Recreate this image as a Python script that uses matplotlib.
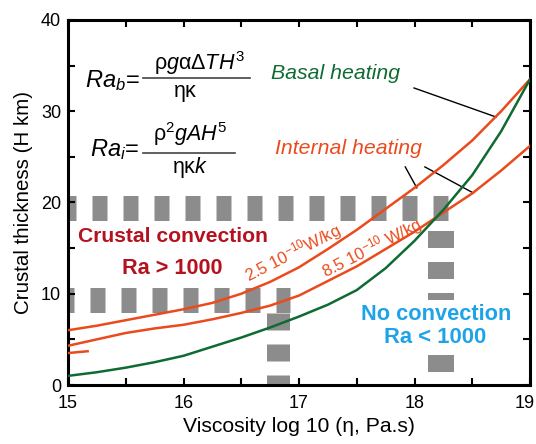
import numpy as np
import matplotlib as mpl
mpl.use('Agg')
from matplotlib import pyplot as plt
from matplotlib.transforms import ScaledTranslation

plt.rcParams['font.family'] = ['Liberation Sans', 'DejaVu Sans']
plt.rcParams['mathtext.fontset'] = 'custom'
plt.rcParams['mathtext.rm'] = 'Liberation Sans'
plt.rcParams['mathtext.it'] = 'Liberation Sans:italic'
plt.rcParams['mathtext.bf'] = 'Liberation Sans:bold'
plt.rcParams['mathtext.fallback'] = 'stixsans'
plt.rcParams['lines.scale_dashes'] = False

# viscosity (log10 Pa.s)
visc = [15.0, 15.25, 15.5, 15.75, 16.0, 16.25, 16.5, 16.75, 17.0,
        17.25, 17.5, 17.75, 18.0, 18.25, 18.5, 18.75, 19.0]
# crustal thickness (km)
h_int_25 = [6.0, 6.5, 7.1, 7.7, 8.3, 9.0, 10.0, 11.3, 12.9,
            14.9, 17.0, 19.3, 21.6, 24.1, 26.8, 30.0, 33.5]
h_int_85 = [4.3, 5.0, 5.7, 6.2, 6.6, 7.2, 7.9, 8.7, 9.8,
            11.4, 13.0, 14.9, 16.8, 18.9, 21.0, 23.5, 26.2]
h_basal = [1.0, 1.4, 1.9, 2.5, 3.2, 4.2, 5.2, 6.3, 7.5,
           8.8, 10.4, 12.8, 15.8, 19.2, 23.0, 27.8, 33.5]
stub_x = [15.0, 15.17]
stub_y = [3.5, 3.7]

# grey dashed bands (Ra = 1000 boundaries)
band_rows_y = [19.45, 9.3]
band_rows_xmax = [18.37, 16.92]
band_cols_x = [16.82, 18.23]
band_cols_ytop = [7.9, 16.9]

green = '#0e6b31'
red = '#ea4a1c'
grey = '#8c8c8c'

fig = plt.figure(figsize=(5.36, 4.44), dpi=100)
ax = fig.add_axes([68/536, 59/444, 462/536, 365/444])

pt = 72/100.  # points per pixel
for y, xmax, off in zip(band_rows_y, band_rows_xmax, [7, 9]):
    ax.plot([15, xmax], [y, y], color=grey, lw=25*pt, solid_capstyle='butt',
            dash_capstyle='butt', linestyle=(off*pt, (15*pt, 16*pt)), zorder=1)
for x, ytop, w in zip(band_cols_x, band_cols_ytop, [23, 26]):
    ax.plot([x, x], [ytop, 0], color=grey, lw=w*pt, dash_capstyle='butt',
            linestyle=(0, (17*pt, 14*pt)), zorder=1)

ax.plot(visc, h_int_25, color=red, lw=1.8, zorder=3)
ax.plot(visc, h_int_85, color=red, lw=1.8, zorder=3)
ax.plot(visc, h_basal, color=green, lw=1.8, zorder=3)
ax.plot(stub_x, stub_y, color=red, lw=1.8, zorder=3)

ax.set_xlim(15, 19)
ax.set_ylim(0, 40)
ax.set_xticks([15, 16, 17, 18, 19])
ax.set_xticks(np.arange(15, 19.01, 0.5), minor=True)
ax.set_yticks([0, 10, 20, 30, 40])
ax.set_yticks(np.arange(0, 40.1, 5), minor=True)
ax.tick_params(which='both', direction='in', top=True, right=True,
               length=5, width=1.5, labelsize=13)
ax.tick_params(axis='x', pad=7)
ax.tick_params(axis='y', pad=5)
for s in ax.spines.values():
    s.set_linewidth(2.2)
last = ax.get_xticklabels()[-1]
last.set_transform(last.get_transform() + ScaledTranslation(-0.05, 0, fig.dpi_scale_trans))

ax.set_xlabel('Viscosity log 10 (\u03b7, Pa.s)', fontsize=15.2)
ax.set_ylabel('Crustal thickness (H km)', fontsize=14.8, labelpad=6)

# equations
ax.text(15.62, 33.4, r'$Ra_b$=', fontsize=17, ha='right', va='center')
ax.plot([15.65, 16.58], [33.6, 33.6], color='#444444', lw=1.2)
ax.text(16.14, 35.3, r'$\mathrm{\rho}g\mathrm{\alpha\Delta}TH^3$', fontsize=15.5, ha='center', va='center')
ax.text(16.02, 31.9, r'$\mathrm{\eta\kappa}$', fontsize=15.5, ha='center', va='center')
ax.text(15.62, 25.75, r'$Ra_i$=', fontsize=17, ha='right', va='center')
ax.plot([15.65, 16.45], [25.4, 25.4], color='#444444', lw=1.2)
ax.text(16.06, 27.5, r'$\mathrm{\rho}^2gAH^5$', fontsize=15.5, ha='center', va='center')
ax.text(16.06, 23.8, r'$\mathrm{\eta\kappa}k$', fontsize=15.5, ha='center', va='center')

# labels
ax.text(17.32, 34.1, 'Basal heating', color=green, style='italic', fontsize=15.3, ha='center', va='center')
ax.text(17.43, 25.9, 'Internal heating', color=red, style='italic', fontsize=15.3, ha='center', va='center')
ax.plot([17.996, 18.706], [32.55, 29.37], color='k', lw=1)
ax.plot([17.92, 18.02], [23.9, 21.6], color='k', lw=1)
ax.plot([18.09, 18.51], [23.9, 21.04], color='k', lw=1)

ax.text(15.905, 16.3, 'Crustal convection', color='#b3121e', weight='bold', fontsize=15.2, ha='center', va='center')
ax.text(15.9, 12.8, 'Ra > 1000', color='#b3121e', weight='bold', fontsize=15.6, ha='center', va='center')
ax.text(18.19, 7.7, 'No convection', color='#1ea3e8', weight='bold', fontsize=15.7, ha='center', va='center',
        bbox=dict(fc='white', ec='none', pad=3), zorder=4)
ax.text(18.18, 5.26, 'Ra < 1000', color='#1ea3e8', weight='bold', fontsize=15.8, ha='center', va='center',
        bbox=dict(fc='white', ec='none', pad=3), zorder=4)

ax.text(16.95, 14.5, r'2.5 10$^{-10}$W/kg', color=red, fontsize=12, rotation=27,
        ha='center', va='center', rotation_mode='anchor', zorder=4)
ax.text(17.63, 15.0, r'8.5 10$^{-10}$ W/kg', color=red, fontsize=12, rotation=27,
        ha='center', va='center', rotation_mode='anchor', zorder=4)

fig.savefig('out.png', dpi=100)
